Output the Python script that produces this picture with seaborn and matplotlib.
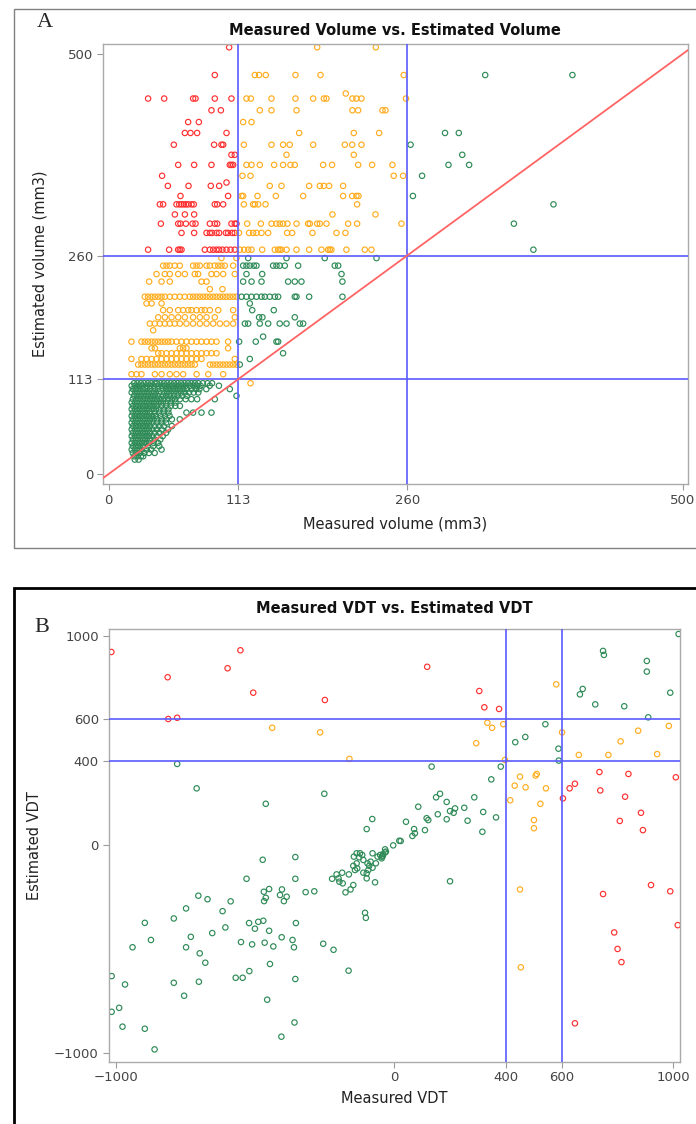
import numpy as np
import pandas as pd
import matplotlib
matplotlib.use("Agg")
import matplotlib.pyplot as plt
import seaborn as sns
from matplotlib.patches import Rectangle

# ---- Panel A: nodule volume (mm3), rows of (estimated, [measured, ...]) ----
rows_above_260 = [
    (508, [104.9, 181.6, 232.7]),
    (475, [92.4, 127.3, 131, 136.8, 162.7, 184.5, 257, 328, 404]),
    (453, [206.5]),
    (447, [34.3, 48.3, 73.5, 75.6, 92.4, 106.9, 120, 123.8, 141.8, 162.7, 178.1,
           187.4, 189.7, 212.3, 215.8, 220.2, 259]),
    (433, [89.5, 97.7, 131.6, 141.8, 163.6, 212.3, 217.3, 238.5, 241.1]),
    (419, [69.2, 78.5, 117.1, 124.4]),
    (406, [66.3, 71.2, 77, 102.6, 165.9, 213.5, 235.6, 293, 305]),
    (392, [56.7, 91.8, 98.2, 99.7, 117.7, 141.8, 151.9, 157.7, 178.1, 205.7,
           212.1, 220.2, 263]),
    (380, [106.9, 109.8, 154.9, 213.5, 308]),
    (368, [60.5, 74.4, 89.5, 105.5, 106.9, 108.4, 120, 124.4, 131.6, 144.1, 151.9,
           158.3, 162.1, 186.8, 194.6, 217.3, 229.5, 247.2, 296, 314]),
    (355, [46.5, 116.5, 123.5, 248.3, 256.5, 273]),
    (347, [102.6]),
    (343, [51.5, 69.5, 88.9, 96.2, 140.3, 150.5, 174.6, 183.9, 187.4, 192, 204.2]),
    (331, [62.5, 104, 115.7, 117.1, 129.6, 145.6, 169.4, 204.2, 212.1, 215.8,
           217.6, 265]),
    (321, [44.5, 47.4, 59, 61.4, 63.4, 65.4, 67.2, 69.2, 72.1, 74.1, 92.4, 94.5,
           99.7, 117.7, 125.8, 127.3, 130.2, 136.6, 216.4, 387.5]),
    (309, [57.6, 66.3, 74.4, 194.9, 232.4]),
    (298, [45.4, 60.5, 62.5, 67.2, 73, 75.6, 88.1, 92.4, 94.5, 106.9, 109.8, 111.3,
           120.6, 132.5, 141.8, 146.1, 149, 151.9, 155.7, 163.6, 173.7, 175.2,
           181.6, 183.9, 189.7, 208.6, 216.4, 255, 353]),
    (287, [63.4, 74.4, 85.2, 88.1, 90.1, 93.9, 96.2, 102, 104, 107.5, 109.8, 113.5,
           122.3, 125.8, 128.7, 133.1, 138.9, 155.4, 159.8, 177.5, 198.4, 206.2]),
    (267, [34.3, 52.6, 60.5, 61.9, 63.4, 83.7, 88.1, 91, 93.9, 96.2, 99.1, 102.6,
           106.1, 109.8, 114.2, 118, 121.5, 124.4, 133.7, 144.7, 147.6, 149, 150.5,
           154.9, 163.6, 174.6, 185.3, 191.1, 192.6, 194, 207.1, 223.1, 228.9, 370]),
]

rows_113_260 = [
    (257, [98.2, 111.3, 121.5, 154.9, 188.2, 233.3]),
    (248, [47.4, 50.3, 53.2, 57.6, 61.9, 73.5, 76.5, 79.4, 85.2, 88.1, 92.4, 95.4,
           98.2, 101.1, 108.4, 117.1, 120, 122.9, 126.4, 128.7, 143.2, 146.1, 149,
           153.4, 165, 196.9, 199.9]),
    (238, [41.6, 48.9, 53.2, 60.5, 66.3, 75, 77.9, 89.5, 93.9, 99.7, 109.8, 120,
           133.7, 202.8]),
    (229, [35.2, 46, 53.2, 80.8, 85.2, 117.1, 124.4, 133.1, 156.3, 162.1, 167.9,
           203.6]),
    (220, [88.1, 99.1]),
    (211, [31.4, 34.3, 37.3, 40.2, 43.1, 46, 48.9, 53.2, 57.6, 61.9, 66.3, 70.6,
           73.5, 76.5, 79.4, 82.3, 85.2, 88.1, 91, 93.9, 96.8, 99.7, 102.6, 105.5,
           108.4, 111.3, 115.7, 120, 124.4, 128.7, 133.1, 136, 140.3, 144.7, 147.6,
           162.1, 163.6, 174.6, 203.6]),
    (203, [32.9, 37.3, 46, 122.9]),
    (195, [47.4, 53.2, 60.5, 64.8, 69.2, 72.1, 76.5, 80.8, 83.7, 88.1, 95.4, 108.4,
           125, 143.8]),
    (186.5, [43.1, 48.9, 54.7, 60.5, 66.3, 73.5, 79.4, 85.2, 92.4, 109.8, 131,
             133.9, 162.1]),
    (179, [35.8, 40.2, 44.5, 48.9, 53.2, 57.6, 61.9, 67.7, 73.5, 79.4, 85.2, 91,
           96.8, 102.6, 108.4, 118.6, 121.5, 131.6, 138.9, 149, 154.9, 166.5, 169.4]),
    (171, [38.7]),
    (163.5, [134.5]),
    (157.5, [19.8, 28.5, 31.4, 34.3, 37.3, 40.2, 43.1, 46, 48.9, 51.8, 54.7, 59,
             63.4, 67.7, 72.1, 76.5, 80.8, 85.2, 89.5, 93.9, 104, 113.6, 128.1,
             146.1, 147.6]),
    (149.6, [37.3, 40.2, 61.9, 64.8, 67.7, 104]),
    (143.7, [43.1, 46, 50.3, 54.7, 59, 63.4, 67.7, 72.1, 76.5, 80.8, 85.2, 89.5,
             93.9, 151.9]),
    (136.9, [19.8, 28.5, 32.9, 37.3, 41.6, 46, 50.3, 54.7, 59, 63.4, 67.7, 72.1,
             76.5, 80.8, 109.8, 122.9]),
    (130.2, [25.6, 28.5, 31.4, 34.3, 37.3, 40.2, 43.1, 46, 48.9, 51.8, 54.7, 57.6,
             60.5, 63.4, 66.3, 69.2, 72.1, 75, 88.1, 91, 93.9, 96.8, 99.7, 102.6,
             105.5, 108.4, 111.3, 114.2]),
    (118.7, [19.8, 24.2, 28.5, 40.2, 46, 53.2, 59, 64.8, 76.5, 86.7, 99.7]),
]

rows_below_113 = [
    (108, [22, 25, 28, 31, 34, 37, 40, 42, 45, 48, 51, 54, 57, 60, 63, 66, 69, 72,
           75, 78, 82, 86, 90, 123.5]),
    (105, [20, 23, 26, 29, 33, 36, 39, 43, 46, 49, 52, 55, 58, 61, 64, 67, 71, 74,
           77, 80, 88, 96]),
    (101, [21, 24, 27, 30, 33, 36, 40, 43, 47, 50, 53, 56, 59, 62, 65, 68, 72, 76,
           79, 85, 105.5]),
    (97, [20, 23, 26, 29, 32, 35, 38, 41, 44, 48, 51, 54, 57, 60, 63, 66, 70, 74, 78]),
    (93, [22, 25, 28, 31, 34, 37, 40, 43, 47, 50, 53, 57, 60, 64, 68, 111.3]),
    (89, [21, 24, 27, 30, 33, 36, 39, 42, 45, 48, 52, 55, 58, 62, 67, 72, 77, 92.4]),
    (85, [20, 23, 26, 29, 32, 35, 38, 41, 44, 47, 50, 54, 58]),
    (81, [21, 24, 27, 30, 33, 36, 39, 42, 46, 50, 54, 58, 62]),
    (77, [20, 23, 26, 29, 32, 35, 38, 41, 44, 48, 52]),
    (73, [21, 24, 27, 30, 33, 36, 40, 44, 48, 52, 67.7, 73.5, 80.8, 89.5]),
    (69, [20, 23, 26, 29, 32, 35, 38, 41, 45, 49, 53]),
    (65, [21, 24, 27, 30, 33, 36, 39, 42, 46, 50, 55, 61.9]),
    (61, [20, 23, 26, 29, 32, 35, 38, 42, 46, 50]),
    (57, [21, 24, 27, 30, 33, 36, 40, 44, 48, 55]),
    (53, [20, 23, 26, 29, 32, 35, 38, 42, 46, 51.8]),
    (49, [21, 24, 27, 30, 33, 36, 40, 44, 50]),
    (45, [20, 23, 26, 29, 32, 35, 38, 42, 47]),
    (41, [21, 24, 27, 30, 33, 36, 40, 45]),
    (37, [20, 23, 26, 29, 32, 35, 39, 43]),
    (33, [21, 24, 27, 30, 34, 38.7, 44]),
    (29, [20, 23, 26, 29, 33, 37, 46]),
    (25, [21, 24, 27, 31, 35, 40]),
    (21, [22, 25, 28, 30]),
    (17, [22.7, 26]),
]

vol_cuts = [113, 260]
vol_ticks = [0, 113, 260, 500]

# ---- Panel B: volume doubling time (days), (measured, estimated) ----
vdt_red = [(-1015, 922), (-813, 801), (-811, 601), (-779, 607), (-598, 844), (-552, 930),
           (-506, 727), (-249, 692), (118, 851), (305, 735), (323, 657), (376, 649),
           (605, 221), (629, 269), (648, 291), (736, 347), (739, 259), (840, 338),
           (828, 229), (1010, 322), (885, 152), (809, 113), (892, 69), (749, -237),
           (921, -194), (990, -224), (1017, -386), (789, -421), (801, -500), (815, -563),
           (648, -856)]
vdt_orange = [(-438, 559), (-266, 537), (-161, 410), (334, 583), (351, 559), (391, 576),
              (294, 485), (397, 405), (581, 767), (602, 537), (451, 325), (432, 282),
              (471, 274), (507, 330), (511, 338), (544, 269), (416, 212), (524, 195),
              (501, 117), (501, 78), (662, 429), (768, 429), (812, 494), (875, 545),
              (943, 433), (985, 568), (451, -215), (454, -588)]
vdt_green_upper = [(-779, 386), (-709, 269), (-461, 195), (-251, 243), (-99, 74), (-79, 122),
                   (18, 18), (134, 373), (382, 373), (348, 312), (434, 490), (470, 515),
                   (542, 576), (589, 459), (590, 402), (749, 927), (752, 908), (906, 879),
                   (906, 828), (990, 727), (1020, 1008), (676, 745), (666, 719), (721, 671),
                   (825, 662), (911, 609), (86, 181), (150, 226), (164, 243), (188, 204),
                   (200, 160), (218, 173), (213, 152), (251, 176), (287, 226), (319, 156),
                   (263, 114), (188, 121), (156, 145), (116, 126), (122, 117), (110, 69),
                   (365, 130), (316, 61), (42, 109), (71, 74), (65, 41), (74, 54), (23, 17),
                   (200, -176)]
vdt_green_lower = [(-1014, -630), (-966, -670), (-1014, -801), (-987, -782), (-975, -872),
                   (-895, -882), (-860, -981), (-939, -492), (-895, -375), (-873, -457),
                   (-791, -354), (-747, -306), (-791, -662), (-754, -724), (-747, -492),
                   (-730, -442), (-703, -245), (-670, -262), (-698, -521), (-678, -566),
                   (-701, -657), (-653, -424), (-616, -319), (-587, -272), (-606, -397),
                   (-530, -164), (-521, -376), (-500, -403), (-488, -370), (-470, -365),
                   (-550, -467), (-510, -478), (-465, -470), (-449, -413), (-434, -488),
                   (-404, -444), (-446, -572), (-520, -606), (-569, -638), (-544, -638),
                   (-456, -743), (-405, -920), (-358, -852), (-355, -644), (-472, -73),
                   (-468, -226), (-461, -255), (-467, -271), (-449, -213), (-403, -215),
                   (-410, -242), (-386, -250), (-396, -271), (-355, -60), (-355, -164),
                   (-318, -228), (-287, -224), (-353, -376), (-365, -457), (-360, -492),
                   (-255, -475), (-218, -504), (-164, -604), (-105, -327), (-102, -351),
                   (-223, -164), (-207, -143), (-200, -162), (-197, -178), (-187, -135),
                   (-185, -186), (-175, -229), (-163, -143), (-157, -215), (-147, -194),
                   (-147, -102), (-141, -122), (-135, -90), (-133, -114), (-145, -58),
                   (-123, -42), (-111, -74), (-111, -135), (-99, -162), (-99, -138),
                   (-93, -122), (-90, -102), (-85, -82), (-78, -111), (-78, -42),
                   (-69, -181), (-66, -90), (-60, -58), (-51, -50), (-45, -58), (-40, -46),
                   (-33, -38), (-30, -34), (-126, -61), (-115, -50), (-96, -90), (-135, -42),
                   (-4, -4), (-33, -23), (-41, -55), (-45, -66)]

vdt_cuts = [400, 600]
vdt_ticks = [-1000, 0, 400, 600, 1000]

agree_names = ["same", "one off", "two off"]
agree_colors = {"same": "#2e8b57", "one off": "#ffad1f", "two off": "#ff3030"}


def frame_from_rows(rows):
    meas, est = [], []
    for e, ms in rows:
        meas += list(ms)
        est += [e] * len(ms)
    return pd.DataFrame({"measured": meas, "estimated": est})


def frame_from_pairs(pairs):
    return pd.DataFrame(pairs, columns=["measured", "estimated"])


def add_agreement(df, cuts):
    diff = np.abs(np.digitize(df["measured"], cuts) - np.digitize(df["estimated"], cuts))
    df["agreement"] = [agree_names[d] for d in diff]
    return df


vol = pd.concat([frame_from_rows(r) for r in (rows_above_260, rows_113_260, rows_below_113)],
                ignore_index=True)
vol = add_agreement(vol, vol_cuts)
vdt = pd.concat([frame_from_pairs(p) for p in (vdt_red, vdt_orange, vdt_green_upper, vdt_green_lower)],
                ignore_index=True)
vdt = add_agreement(vdt, vdt_cuts)

sns.set_theme(style="white")
plt.rcParams["font.family"] = ["DejaVu Sans"]

fig = plt.figure(figsize=(6.96, 11.24), dpi=100)
axA = fig.add_axes([0.148, 0.5694, 0.841, 0.3915])
axB = fig.add_axes([0.156, 0.0554, 0.821, 0.385])


def draw_panel(ax, df, cuts, ticks, lims):
    sns.scatterplot(data=df, x="measured", y="estimated", hue="agreement",
                    hue_order=agree_names, palette=agree_colors, s=15,
                    linewidth=0.85, legend=False, ax=ax, zorder=2)
    pts = ax.collections[-1]
    pts.set_edgecolors(pts.get_facecolors())
    pts.set_facecolors("none")
    for c in cuts:
        ax.axvline(c, color="#5a5aff", lw=1.2, zorder=3)
        ax.axhline(c, color="#5a5aff", lw=1.2, zorder=3)
    ax.set_xlim(lims[0])
    ax.set_ylim(lims[1])
    ax.set_xticks(ticks)
    ax.set_yticks(ticks)
    ax.tick_params(direction="out", length=4, width=0.8, color="#999999",
                   labelcolor="#444444", labelsize=9.5, bottom=True, left=True, pad=3)
    for sp in ax.spines.values():
        sp.set_color("#aaaaaa")
        sp.set_linewidth(1)
    ax.set_xlabel("")
    ax.set_ylabel("")


draw_panel(axA, vol, vol_cuts, vol_ticks, [(-5, 505), (-12, 512)])
axA.plot([-20, 520], [-20, 520], color="#ff6464", lw=1.3, zorder=3)
draw_panel(axB, vdt, vdt_cuts, vdt_ticks, [(-1025, 1025), (-1040, 1032)])

title_kw = dict(ha="center", va="center", fontsize=10.5, fontweight="bold", color="#111111")
fig.text(0.568, 0.9733, "Measured Volume vs. Estimated Volume", **title_kw)
fig.text(0.567, 0.4582, "Measured VDT vs. Estimated VDT", **title_kw)

lab_kw = dict(ha="center", va="center", fontsize=10.5, color="#222222")
fig.text(0.568, 0.5338, "Measured volume (mm3)", **lab_kw)
fig.text(0.0575, 0.765, "Estimated volume (mm3)", rotation=90, **lab_kw)
fig.text(0.567, 0.0231, "Measured VDT", **lab_kw)
fig.text(0.050, 0.248, "Estimated VDT", rotation=90, **lab_kw)

letter_kw = dict(ha="center", va="center", fontsize=16, family=["Liberation Serif", "DejaVu Serif"])
fig.text(0.0647, 0.9804, "A", **letter_kw)
fig.text(0.0603, 0.4413, "B", **letter_kw)

fig.add_artist(Rectangle((0.0201, 0.5125), 1.0, 0.4795, transform=fig.transFigure,
                         fill=False, ec="#808080", lw=1))
fig.add_artist(Rectangle((0.0201, -0.01), 1.0, 0.4869, transform=fig.transFigure,
                         fill=False, ec="black", lw=2))

fig.savefig("out.png", dpi=100)
